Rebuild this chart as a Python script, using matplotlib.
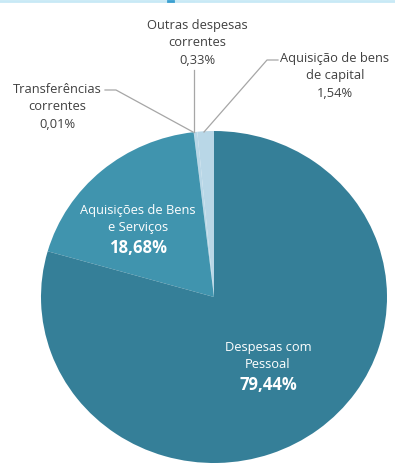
import numpy as np
import matplotlib
matplotlib.use("Agg")
from matplotlib import pyplot as plt
from matplotlib.lines import Line2D

# data, counterclockwise from the top
categories = ["Aquisição de bens\nde capital", "Outras despesas\ncorrentes",
              "Transferências\ncorrentes", "Aquisições de Bens\ne Serviços",
              "Despesas com\nPessoal"]
values = [1.54, 0.33, 0.01, 18.68, 79.44]
pct_labels = ["1,54%", "0,33%", "0,01%", "18,68%", "79,44%"]
colors = ["#b9d7e7", "#b9d7e7", "#b9d7e7", "#4094ae", "#357f98"]

plt.rcParams['font.family'] = ['Open Sans', 'DejaVu Sans']

W, H = 395, 465
fig = plt.figure(figsize=(W / 100, H / 100), dpi=100)
cx, cy, rx, ry = 214, 297, 173, 166
ax = fig.add_axes([(cx - rx) / W, (H - cy - ry) / H, 2 * rx / W, 2 * ry / H])

wedges, _ = ax.pie(values, colors=colors, startangle=90, counterclock=True,
                   wedgeprops=dict(linewidth=0))
ax.set_aspect('auto')
ax.set_xlim(-1, 1)
ax.set_ylim(-1, 1)


def to_data(px, py):
    return (px - cx) / rx, (cy - py) / ry


txt_color = "#404040"
line_color = "#a6a6a6"

# outside labels with leader lines: (label pos, leader path)
outside = {
    0: ((335, 76), [(204, 132), (267, 60), (278, 60)]),
    1: ((197, 43), [(194, 132), (194, 70)]),
    2: ((57, 107), [(193, 132), (116, 90), (105, 90)]),
}
for i, (pos, path) in outside.items():
    x, y = to_data(*pos)
    ax.text(x, y, categories[i] + "\n" + pct_labels[i], ha="center", va="center",
            fontsize=9.3, color=txt_color, linespacing=1.45, clip_on=False)
    pts = np.array([to_data(*p) for p in path])
    ax.plot(pts[:, 0], pts[:, 1], color=line_color, lw=0.9, clip_on=False)

# inside labels
inside = {3: (138, 219), 4: (268, 356)}
for i, pos in inside.items():
    x, y = to_data(*pos)
    ax.text(x, y, categories[i], ha="center", va="center", fontsize=9.3,
            color="white", linespacing=1.45)
    x2, y2 = to_data(pos[0], pos[1] + 29)
    ax.text(x2, y2, pct_labels[i], ha="center", va="center", fontsize=12,
            fontweight="bold", color="white")

# thin header strip at the very top
fig.add_artist(Line2D([0, 1], [0.998, 0.998], transform=fig.transFigure,
                      color="#c8e9f6", lw=2))
fig.add_artist(Line2D([168 / W, 173 / W], [0.998, 0.998], transform=fig.transFigure,
                      color="#3a9fd0", lw=2))

fig.savefig("out.png", dpi=100)
